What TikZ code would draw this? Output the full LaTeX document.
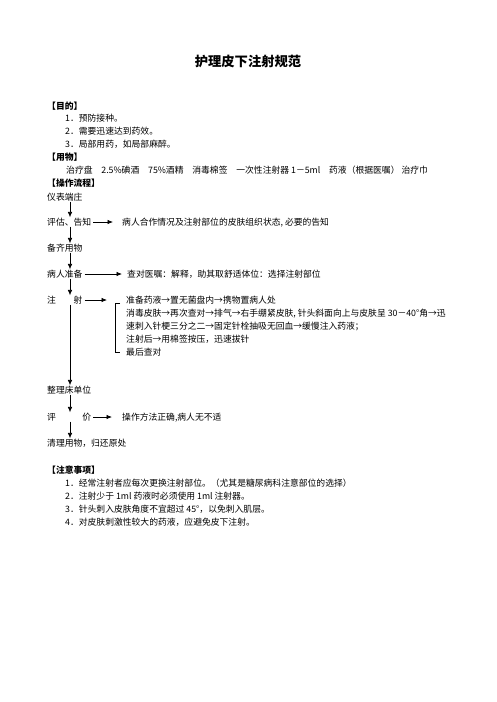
\documentclass[tikz,border=0pt]{standalone}
\usepackage{fontspec}
\setmainfont{Noto Sans CJK SC}
\usetikzlibrary{shapes,arrows.meta}
\tikzstyle{txt} = [anchor=west, inner sep=0pt, font=\fontsize{8.8}{13}\selectfont, text height=7.7pt, text depth=1.1pt]
\tikzstyle{head} = [txt, font=\fontsize{8.8}{13}\selectfont\bfseries]
\tikzstyle{line} = [draw, -{Latex[length=5.5pt, width=4.5pt]}, line width=.7pt]

\begin{document}
\begin{tikzpicture}[x=1pt, y=-1pt]
	\useasboundingbox (0,0) rectangle (496,702);
	% Title and heads
	\node [inner sep=0pt, font=\fontsize{13.3}{16}\selectfont\bfseries] (title) at (248,61) {护理皮下注射规范};
	\node [head] (aim) at (47,106) {【目的】};
	\node [txt] (aim1) at (65,118) {1．预防接种。};
	\node [txt] (aim2) at (65,131) {2．需要迅速达到药效。};
	\node [txt] (aim3) at (65,144) {3．局部用药，如局部麻醉。};
	\node [head] (goods) at (47,157) {【用物】};
	\node [txt] (goods1) at (66,170) {治疗盘　2.5\%碘酒　75\%酒精　消毒棉签　一次性注射器 1－5ml　药液（根据医嘱） 治疗巾};
	\node [head] (flow) at (47,183) {【操作流程】};
	% Place flow nodes
	\node [txt] (dress) at (47,197) {仪表端庄};
	\node [txt] (assess) at (47,222) {评估、告知};
	\node [txt] (assessr) at (122,222) {病人合作情况及注射部位的皮肤组织状态, 必要的告知};
	\node [txt] (prep) at (47,248) {备齐用物};
	\node [txt] (patient) at (47,274) {病人准备};
	\node [txt] (patientr) at (127,274) {查对医嘱：解释，助其取舒适体位：选择注射部位};
	\node [txt] (inject) at (47,300) {注　　射};
	\node [txt] (inj1) at (126,300) {准备药液→置无菌盘内→携物置病人处};
	\node [txt] (inj2) at (126,313) {消毒皮肤→再次查对→排气→右手绷紧皮肤, 针头斜面向上与皮肤呈 30－40°角→迅};
	\node [txt] (inj3) at (126,326) {速刺入针梗三分之二→固定针栓抽吸无回血→缓慢注入药液；};
	\node [txt] (inj4) at (126,339) {注射后→用棉签按压，迅速拔针};
	\node [txt] (inj5) at (126,352) {最后查对};
	\node [txt] (tidy) at (47,390) {整理床单位};
	\node [txt] (eval) at (47,417) {评　　　价};
	\node [txt] (evalr) at (122,417) {操作方法正确,病人无不适};
	\node [txt] (clean) at (47,443) {清理用物，归还原处};
	% Notes
	\node [head] (note) at (47,470) {【注意事项】};
	\node [txt] (note1) at (65,483) {1．经常注射者应每次更换注射部位。（尤其是糖尿病科注意部位的选择）};
	\node [txt] (note2) at (65,496) {2．注射少于 1ml 药液时必须使用 1ml 注射器。};
	\node [txt] (note3) at (65,509) {3．针头刺入皮肤角度不宜超过 45°，以免刺入肌层。};
	\node [txt] (note4) at (65,522) {4．对皮肤刺激性较大的药液，应避免皮下注射。};
	% Draw edges
	\coordinate (spine) at (70,0);
	\path [line] (dress.south -| spine) -- (assess.north -| spine);
	\path [line] (assess.south -| spine) -- (prep.north -| spine);
	\path [line] (prep.south -| spine) -- (patient.north -| spine);
	\path [line] (patient.south -| spine) -- (inject.north -| spine);
	\path [line] (inject.south -| spine) -- (tidy.north -| spine);
	\path [line] (tidy.south -| spine) -- (eval.north -| spine);
	\path [line] (eval.south -| spine) -- (clean.north -| spine);
	\path [line, shorten <=2pt, shorten >=9pt] (assess) -- (assessr);
	\path [line, shorten <=2pt, shorten >=5pt] (patient) -- (patientr);
	\path [line, shorten <=2pt, shorten >=19pt] (inject) -- (inj1);
	\path [line, shorten <=2pt, shorten >=10pt] (eval) -- (evalr);
	% bracket
	\draw [line width=.7pt] (inj1.west) ++(-6,3) -- ++(-5,0) |- ([xshift=-6pt]inj5.west);
\end{tikzpicture}
\end{document}
